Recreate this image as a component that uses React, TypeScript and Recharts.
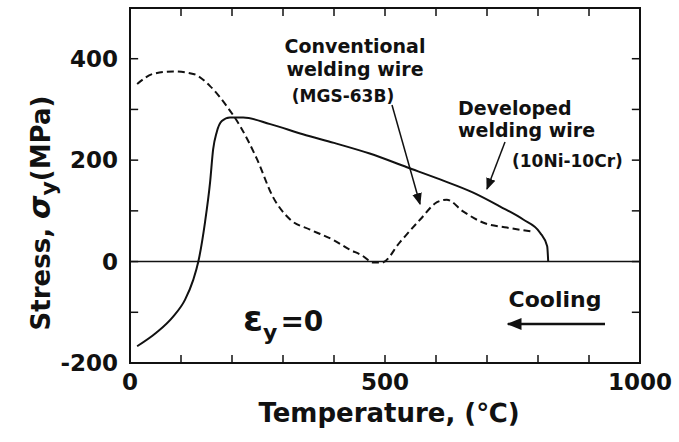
import { Line, LineChart, ReferenceLine, XAxis, YAxis } from "recharts"

// temperature axis (°C)
const tempTicks = [0, 100, 200, 300, 400, 500, 600, 700, 800, 900, 1000]
const tempLabels = [0, 500, 1000]

// stress axis (MPa)
const stressTicks = [-200, -100, 0, 100, 200, 300, 400, 500]
const stressLabels = [-200, 0, 200, 400]

// Developed welding wire (10Ni-10Cr), solid
const developedTemp = [14, 52, 85, 108, 124, 134, 147, 157, 163, 170, 180, 196, 222, 275, 339, 400, 470, 543, 608, 673, 725, 771, 804, 818, 820]
const developedStress = [-167, -140, -108, -75, -36, 0, 77, 156, 221, 255, 277, 284, 284, 271, 251, 234, 213, 186, 162, 136, 109, 83, 57, 30, 0]

// Conventional welding wire (MGS-63B), dashed
const conventionalTemp = [14, 45, 85, 124, 157, 190, 216, 249, 280, 314, 353, 400, 430, 455, 477, 494, 529, 569, 602, 621, 653, 692, 739, 790]
const conventionalStress = [350, 370, 375, 370, 346, 306, 267, 202, 128, 83, 63, 42, 24, 12, -2, -2, 38, 83, 117, 122, 99, 77, 67, 59]

const developed = developedTemp.map((t, i) => ({ t, s: developedStress[i] }))
const conventional = conventionalTemp.map((t, i) => ({ t, s: conventionalStress[i] }))

const T_MIN = 0
const T_MAX = 1000
const S_MIN = -200
const S_MAX = 500
// inward tick length, in axis units (about 8px)
const TICK_T = 16
const TICK_S = 16

// plot box in the 679x442 page
const PLOT = { left: 130, top: 8, right: 39, bottom: 79 }

const ink = "#111"
const font = "DejaVu Sans, Arial, sans-serif"
const tickStyle = { fill: ink, fontSize: 23, fontWeight: "bold", fontFamily: font }

export default function App() {
  return (
    <div style={{ position: "absolute", left: 0, top: 0, width: 679, height: 442, background: "#fff" }}>
      <LineChart width={679} height={442} margin={{ top: PLOT.top, right: PLOT.right, bottom: 0, left: 0 }}>
        <XAxis
          xAxisId={0}
          type="number"
          dataKey="t"
          domain={[T_MIN, T_MAX]}
          ticks={tempLabels}
          interval={0}
          height={PLOT.bottom}
          tickSize={0}
          tickMargin={11}
          axisLine={false}
          tickLine={false}
          tick={tickStyle}
          allowDataOverflow
        />
        <YAxis
          yAxisId={0}
          type="number"
          domain={[S_MIN, S_MAX]}
          ticks={stressLabels}
          interval={0}
          width={PLOT.left}
          tickSize={0}
          tickMargin={12}
          axisLine={false}
          tickLine={false}
          tick={tickStyle}
          allowDataOverflow
        />

        <ReferenceLine y={0} stroke={ink} strokeWidth={1.5} ifOverflow="extendDomain" />

        {tempTicks.map((t) => (
          <ReferenceLine key={`b${t}`} segment={[{ x: t, y: S_MIN }, { x: t, y: S_MIN + TICK_S }]} stroke={ink} strokeWidth={1.5} ifOverflow="visible" />
        ))}
        {tempTicks.map((t) => (
          <ReferenceLine key={`t${t}`} segment={[{ x: t, y: S_MAX }, { x: t, y: S_MAX - TICK_S }]} stroke={ink} strokeWidth={1.5} ifOverflow="visible" />
        ))}
        {stressTicks.map((s) => (
          <ReferenceLine key={`l${s}`} segment={[{ x: T_MIN, y: s }, { x: T_MIN + TICK_T, y: s }]} stroke={ink} strokeWidth={1.5} ifOverflow="visible" />
        ))}
        {stressTicks.map((s) => (
          <ReferenceLine key={`r${s}`} segment={[{ x: T_MAX, y: s }, { x: T_MAX - TICK_T, y: s }]} stroke={ink} strokeWidth={1.5} ifOverflow="visible" />
        ))}

        <Line
          data={developed}
          dataKey="s"
          type="monotone"
          stroke={ink}
          strokeWidth={2}
          dot={false}
          isAnimationActive={false}
        />
        <Line
          data={conventional}
          dataKey="s"
          type="monotone"
          stroke={ink}
          strokeWidth={2}
          strokeDasharray="7 4"
          dot={false}
          isAnimationActive={false}
        />
      </LineChart>

      <svg
        width={679}
        height={442}
        style={{ position: "absolute", left: 0, top: 0, pointerEvents: "none" }}
        fontFamily={font}
        fill={ink}
      >
        <defs>
          <marker id="head" viewBox="0 0 10 10" refX="9" refY="5" markerWidth="8" markerHeight="8" orient="auto">
            <path d="M0,1 L10,5 L0,9 z" fill={ink} />
          </marker>
          <marker id="bighead" viewBox="0 0 10 10" refX="9" refY="5" markerWidth="6" markerHeight="6" orient="auto">
            <path d="M0,1 L10,5 L0,9 z" fill={ink} />
          </marker>
        </defs>

        {/* plot frame */}
        <rect
          x={PLOT.left}
          y={PLOT.top}
          width={679 - PLOT.left - PLOT.right}
          height={442 - PLOT.top - PLOT.bottom}
          fill="none"
          stroke={ink}
          strokeWidth={2}
        />

        <text x={50} y={213} transform="rotate(-90 50 213)" textAnchor="middle" fontSize={26} fontWeight="bold">
          Stress, <tspan fontStyle="italic" fontSize={30}>σ</tspan>
          <tspan dy={6} fontSize={22}>y</tspan>
          <tspan dy={-6}>(MPa)</tspan>
        </text>
        <text x={389} y={422} textAnchor="middle" fontSize={26} fontWeight="bold">
          Temperature,  (℃)
        </text>

        <text x={355} y={53} textAnchor="middle" fontSize={19} fontWeight="bold">Conventional</text>
        <text x={355} y={76} textAnchor="middle" fontSize={19} fontWeight="bold">welding wire</text>
        <text x={343} y={102} textAnchor="middle" fontSize={17} fontWeight="bold">(MGS-63B)</text>
        <line x1={392} y1={105} x2={420} y2={204} stroke={ink} strokeWidth={1.5} markerEnd="url(#head)" />

        <text x={458} y={115} fontSize={19} fontWeight="bold">Developed</text>
        <text x={458} y={137} fontSize={19} fontWeight="bold">welding wire</text>
        <text x={512} y={167} fontSize={17} fontWeight="bold">(10Ni-10Cr)</text>
        <line x1={505} y1={142} x2={487} y2={189} stroke={ink} strokeWidth={1.5} markerEnd="url(#head)" />

        <text x={555} y={307} textAnchor="middle" fontSize={22} fontWeight="bold">Cooling</text>
        <line x1={605} y1={324} x2={508} y2={324} stroke={ink} strokeWidth={2.5} markerEnd="url(#bighead)" />

        <text x={243} y={331} fontSize={36} fontWeight="bold">
          ε<tspan dy={9} fontSize={22}>y</tspan>
          <tspan dy={-9} dx={3} fontSize={28}>=0</tspan>
        </text>
      </svg>
    </div>
  )
}
